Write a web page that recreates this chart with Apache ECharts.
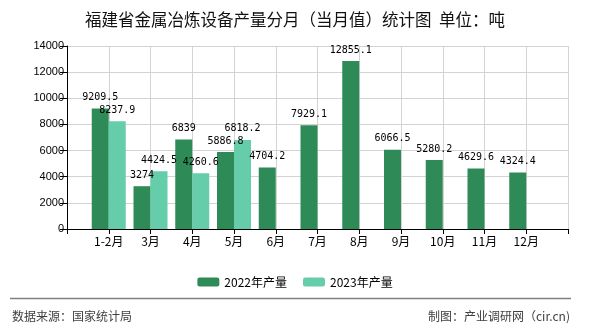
<!DOCTYPE html>
<html><head><meta charset="utf-8">
<script src="https://cdn.jsdelivr.net/npm/echarts@6/dist/echarts.min.js"></script>
<style>html,body{margin:0;padding:0;background:#fff}#c{width:590px;height:330px}</style>
</head><body><div id="c"></div>
<script>
var categories = ["", "1-2月", "3月", "4月", "5月", "6月", "7月", "8月", "9月", "10月", "11月", "12月", ""];
var values2022 = [null, 9209.5, 3274, 6839, 5886.8, 4704.2, 7929.1, 12855.1, 6066.5, 5280.2, 4629.6, 4324.4, null];
var values2023 = [null, 8237.9, 4424.5, 4260.6, 6818.2, null, null, null, null, null, null, null, null];
var seriesNames = ["2022年产量", "2023年产量"];
var yTicks = [0, 2000, 4000, 6000, 8000, 10000, 12000, 14000];

var chart = echarts.init(document.getElementById('c'), null, {renderer: 'canvas'});
var labelStyle = {
  show: true, position: 'top', distance: 6, color: '#000',
  fontFamily: 'DejaVu Sans Mono', fontSize: 10,
  formatter: function (p) { return p.value == null ? '' : String(p.value); }
};
chart.setOption({
  animation: false,
  title: {
    text: '福建省金属冶炼设备产量分月（当月值）统计图  单位：吨',
    left: 'center', top: 6,
    textStyle: {fontFamily: 'Noto Sans CJK SC', fontSize: 16.5, fontWeight: 'normal', color: '#111'}
  },
  legend: {
    data: seriesNames, left: 'center', top: 271,
    itemWidth: 22, itemHeight: 9, itemGap: 16,
    textStyle: {fontFamily: 'Noto Sans CJK SC', fontSize: 12, color: '#000'}
  },
  grid: {left: 67, right: 22, top: 46, bottom: 101},
  xAxis: {
    type: 'category', data: categories, boundaryGap: false,
    axisLine: {lineStyle: {color: '#000', width: 1}},
    axisTick: {show: true, length: 5, lineStyle: {color: '#000'}, interval: 0},
    axisLabel: {interval: 0, color: '#000', fontFamily: 'Noto Sans CJK SC', fontSize: 12, margin: 6},
    splitLine: {show: true, interval: 0, lineStyle: {color: '#d3d3d3', width: 1}}
  },
  yAxis: {
    type: 'value', min: yTicks[0], max: yTicks[yTicks.length - 1], interval: 2000,
    axisLine: {show: true, lineStyle: {color: '#000', width: 1}},
    axisTick: {show: true, length: 7, lineStyle: {color: '#000'}},
    axisLabel: {color: '#000', fontFamily: 'Liberation Sans', fontSize: 11, margin: 3,
      formatter: function (v) { return String(v); }},
    splitLine: {show: true, lineStyle: {color: '#d3d3d3', width: 1}}
  },
  series: [
    {name: seriesNames[0], type: 'bar', data: values2022, barWidth: 17, barGap: '0%',
     itemStyle: {color: '#2e8b57'}, label: labelStyle},
    {name: seriesNames[1], type: 'bar', data: values2023, barWidth: 17, barGap: '0%',
     itemStyle: {color: '#66cdaa'}, label: labelStyle}
  ],
  graphic: [
    {type: 'line', shape: {x1: 10, y1: 298.5, x2: 571, y2: 298.5}, style: {stroke: '#808080', lineWidth: 1.3}},
    {type: 'text', left: 12, top: 310, style: {text: '数据来源：国家统计局', font: '12px "Noto Sans CJK SC"', fill: '#404040'}},
    {type: 'text', right: 20, top: 310, style: {text: '制图：产业调研网（cir.cn)', font: '12px "Noto Sans CJK SC"', fill: '#404040'}}
  ]
});
</script></body></html>
